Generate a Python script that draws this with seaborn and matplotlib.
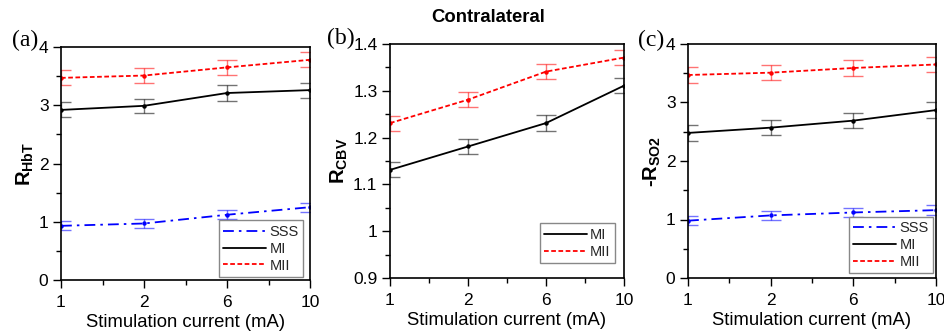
import matplotlib
matplotlib.use("Agg")
import matplotlib.pyplot as plt
import seaborn as sns
import numpy as np
import pandas as pd
from matplotlib.ticker import FixedLocator, MultipleLocator, FuncFormatter
from matplotlib.lines import Line2D

sns.set_theme(style="ticks")
plt.rcParams['font.family'] = ['Liberation Sans', 'DejaVu Sans']
plt.rcParams['mathtext.fontset'] = 'custom'
plt.rcParams['mathtext.rm'] = 'Liberation Sans'
plt.rcParams['mathtext.bf'] = 'Liberation Sans:bold'

currents = ["1", "2", "6", "10"]

# Panel (a) R_HbT
a_sss = [0.93, 0.97, 1.12, 1.25]
a_sss_err = [0.08, 0.075, 0.075, 0.08]
a_mi = [2.92, 2.99, 3.21, 3.26]
a_mi_err = [0.13, 0.125, 0.13, 0.13]
a_mii = [3.47, 3.51, 3.65, 3.78]
a_mii_err = [0.13, 0.125, 0.13, 0.13]

# Panel (b) R_CBV
b_mi = [1.131, 1.181, 1.231, 1.311]
b_mi_err = [0.016, 0.016, 0.017, 0.016]
b_mii = [1.231, 1.281, 1.341, 1.371]
b_mii_err = [0.016, 0.016, 0.016, 0.016]

# Panel (c) -R_SO2
c_sss = [0.98, 1.07, 1.12, 1.16]
c_sss_err = [0.075, 0.075, 0.08, 0.09]
c_mi = [2.48, 2.57, 2.69, 2.87]
c_mi_err = [0.13, 0.13, 0.13, 0.13]
c_mii = [3.47, 3.51, 3.59, 3.65]
c_mii_err = [0.13, 0.13, 0.13, 0.13]

styles = {
    "SSS": dict(color="#0000ff", dashes=(6, 2.8, 1.4, 2.8)),
    "MI": dict(color="black", dashes=None),
    "MII": dict(color="#ff0000", dashes=(2.6, 1.4)),
}

fig = plt.figure(figsize=(9.44, 3.33), dpi=100)
axa = fig.add_axes([61/944, 1-280/333, 249/944, 233/333])
axb = fig.add_axes([390/944, 1-278/333, 234/944, 234/333])
axc = fig.add_axes([688/944, 1-278/333, 248/944, 234/333])

pos = np.arange(len(currents))
LW = 1.3

def draw(ax, series):
    handles = []
    for name, vals, errs in series:
        st = styles[name]
        df = pd.DataFrame({"x": pos, "y": vals})
        sns.lineplot(data=df, x="x", y="y", ax=ax, color=st["color"], lw=LW,
                     marker="o", markersize=3.2, markeredgewidth=0, legend=False)
        l = ax.lines[-1]
        if st["dashes"] is not None:
            l.set_dashes(st["dashes"])
        ax.errorbar(pos, vals, yerr=errs, fmt="none", ecolor=st["color"], alpha=0.55,
                    elinewidth=1.0, capsize=7, capthick=1.0)
        h = Line2D([], [], color=st["color"], lw=LW)
        if st["dashes"] is not None:
            h.set_dashes(st["dashes"])
        handles.append((h, name))
    return handles

def style(ax, handles, ylim, major, minor, ylabel, tag, tagxy, legxy, fmt=None):
    ax.set_xlim(0, 3)
    ax.set_ylim(*ylim)
    ax.set_xticks(pos)
    ax.set_xticklabels(currents)
    ax.xaxis.set_minor_locator(FixedLocator([0.5, 1.5, 2.5]))
    ax.yaxis.set_major_locator(MultipleLocator(major))
    ax.yaxis.set_minor_locator(MultipleLocator(minor))
    if fmt:
        ax.yaxis.set_major_formatter(fmt)
    ax.tick_params(which="major", direction="out", length=6, width=1, labelsize=12.5,
                   top=False, right=False, pad=3, color="black", labelcolor="black")
    ax.tick_params(axis="x", which="major", pad=5)
    ax.tick_params(which="minor", direction="out", length=3.5, width=1, top=False, right=False,
                   color="black")
    for s in ax.spines.values():
        s.set_visible(True)
        s.set_color("black")
        s.set_linewidth(1.2)
    ax.set_xlabel("Stimulation current (mA)", fontsize=13.3, labelpad=3, color="black")
    ax.set_ylabel(ylabel, fontsize=14.5, labelpad=2, color="black", fontweight="bold")
    fig.text(tagxy[0]/944, 1-tagxy[1]/333, tag, fontsize=17, family="Liberation Serif",
             ha="right", va="center", color="black")
    leg = ax.legend([h for h, n in handles], [n for h, n in handles],
                    loc="lower right", bbox_to_anchor=legxy, fontsize=10.5, frameon=True,
                    fancybox=False, handlelength=2.9, borderpad=0.3, labelspacing=0.2,
                    handletextpad=0.25, borderaxespad=0.0)
    leg.get_frame().set_edgecolor("#888888")
    leg.get_frame().set_linewidth(1.0)
    leg.get_frame().set_alpha(1)
    ax.grid(False)

ha = draw(axa, [("SSS", a_sss, a_sss_err), ("MI", a_mi, a_mi_err), ("MII", a_mii, a_mii_err)])
style(axa, ha, (0, 4), 1, 0.5, r"$\mathbf{R}_{\mathbf{HbT}}$", "(a)", (38, 40), (0.972, 0.013))

fmtb = FuncFormatter(lambda v, p: ("%g" % round(v, 2)))
hb = draw(axb, [("MI", b_mi, b_mi_err), ("MII", b_mii, b_mii_err)])
style(axb, hb, (0.9, 1.4), 0.1, 0.05, r"$\mathbf{R}_{\mathbf{CBV}}$", "(b)", (355, 38),
      (0.962, 0.064), fmtb)

hc = draw(axc, [("SSS", c_sss, c_sss_err), ("MI", c_mi, c_mi_err), ("MII", c_mii, c_mii_err)])
style(axc, hc, (0, 4), 1, 0.5, "-" + r"$\mathbf{R}_{\mathbf{SO2}}$", "(c)", (664, 40),
      (0.988, 0.021))

fig.text(488/944, 1-18/333, "Contralateral", ha="center", va="center", fontsize=13.3,
         fontweight="bold", color="black")

fig.savefig("out.png", dpi=100, facecolor="white")
